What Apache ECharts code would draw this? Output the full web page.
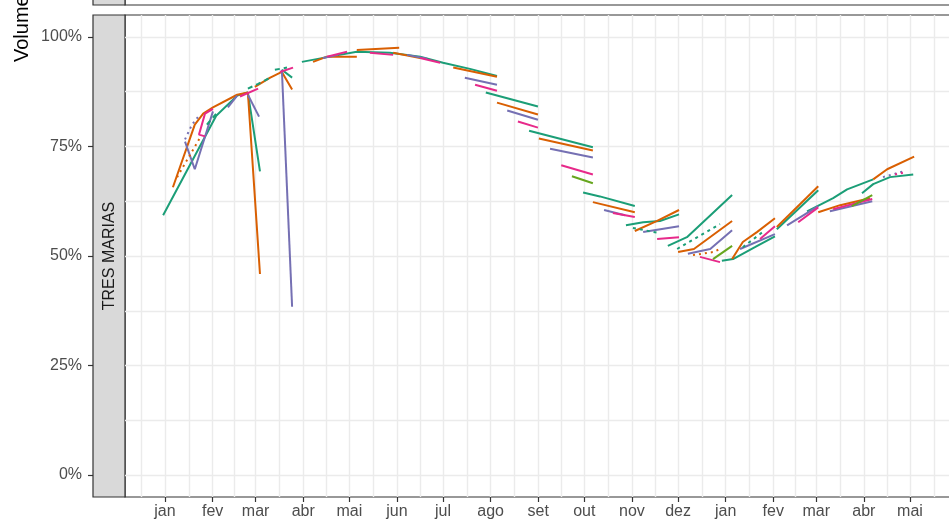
<!DOCTYPE html>
<html><head><meta charset="utf-8">
<script src="https://cdn.jsdelivr.net/npm/echarts@6/dist/echarts.min.js"></script>
<style>html,body{margin:0;padding:0;background:#fff}#c{width:949px;height:525px}</style>
</head><body><div id="c"></div>
<script>
// x unit: fractional months since 1 jan (year 1)
const monthLabels = ['jan','fev','mar','abr','mai','jun','jul','ago','set','out','nov','dez','jan','fev','mar','abr','mai'];
const monthStarts = [0,1.0227,1.9464,2.9691,3.9588,4.9814,5.9711,6.9938,8.0165,9.0062,10.0289,11.0186,12.0412,13.0639,13.9876,15.0103,16.0];
const midMonths = [-0.5113,0.5113,1.4845,2.4577,3.4639,4.4701,5.4763,6.4825,7.5052,8.5113,9.5175,10.5237,11.5299,12.5526,13.5258,14.4990,15.5052,16.5113];
const yTicks = [0,25,50,75,100];
const yMinor = [12.5,37.5,62.5,87.5];
const stripLabel = 'TRES MARIAS';
const yTitle = 'Volume';

const greenSolid = [
 [[-0.04,59.3],[1.10,82.0],[1.55,86.6],[1.78,87.3],[2.04,69.3]],
 [[2.51,92.5],[2.73,90.7]],
 [[2.94,94.3],[3.54,95.5],[4.12,96.6],[4.83,96.4],[5.48,95.5],[5.97,94.1],[6.55,92.7],[7.13,91.1]],
 [[6.89,87.3],[8.01,84.1]],
 [[7.82,78.6],[9.19,74.8]],
 [[8.98,64.5],[9.34,63.6],[10.09,61.4]],
 [[9.90,57.0],[10.27,57.7],[10.63,58.0],[11.04,59.5]],
 [[10.80,52.3],[11.21,54.3],[12.18,63.9]],
 [[11.96,48.9],[12.20,49.3],[12.67,52.0],[13.10,54.5]],
 [[13.14,56.1],[14.03,65.0]],
 [[13.79,60.2],[14.35,63.2],[14.65,65.2],[15.21,67.5]],
 [[14.97,64.3],[15.21,66.4],[15.57,68.0],[16.07,68.6]]
];
const greenDashed = [
 [[0.90,80.0],[1.12,82.7]],
 [[1.78,88.2],[2.00,89.3],[2.26,90.7]],
 [[2.36,92.5],[2.62,93.0]]
];
const greenDotted = [
 [[10.05,56.4],[10.63,55.2]],
 [[11.00,51.6],[11.92,57.3]],
 [[12.41,52.0],[12.84,55.5]]
];
const orangeSolid = [
 [[0.17,65.7],[0.64,80.0],[0.82,82.5],[1.03,83.9],[1.55,86.8],[1.78,87.3],[2.04,45.9]],
 [[1.93,88.6],[2.26,90.7],[2.51,92.0],[2.73,88.0]],
 [[3.18,94.3],[3.48,95.5],[4.12,95.5]],
 [[4.12,97.0],[5.03,97.5]],
 [[4.90,96.4],[5.48,95.2]],
 [[6.19,93.0],[7.13,90.9]],
 [[7.13,85.0],[8.01,82.3]],
 [[8.03,76.8],[9.19,74.1]],
 [[9.19,62.3],[10.09,60.0]],
 [[10.09,55.7],[10.57,58.0],[11.04,60.5]],
 [[11.02,50.9],[11.36,51.6],[12.18,58.0]],
 [[12.18,49.3],[12.41,53.2],[12.72,55.5],[13.10,58.6]],
 [[13.14,56.6],[14.03,65.9]],
 [[14.03,60.0],[14.50,61.6],[15.14,63.2]],
 [[15.21,67.5],[15.51,69.8],[16.09,72.7]]
];
const orangeDotted = [
 [[0.26,68.0],[0.77,77.3]],
 [[11.34,50.2],[11.77,50.9],[11.92,51.6]]
];
const purpleSolid = [
 [[0.43,76.1],[0.64,69.8],[1.03,83.0]],
 [[1.35,83.9],[1.55,86.6]],
 [[1.78,86.8],[2.02,81.8]],
 [[2.51,92.5],[2.73,38.4]],
 [[3.39,95.2],[3.72,95.9]],
 [[5.20,95.9],[5.63,95.0]],
 [[6.44,90.7],[7.13,89.1]],
 [[7.35,83.2],[8.01,81.1]],
 [[8.27,74.5],[9.19,72.5]],
 [[9.43,60.5],[9.88,59.3]],
 [[10.27,55.5],[11.04,56.8]],
 [[11.23,50.5],[11.71,51.6],[12.18,55.9]],
 [[12.35,51.6],[13.10,55.0]],
 [[13.36,57.0],[14.03,61.4]],
 [[14.28,60.2],[15.19,62.5]]
];
const purpleDotted = [
 [[0.43,76.6],[0.58,80.0],[0.75,82.3]],
 [[15.42,68.0],[15.85,69.3]]
];
const pinkSolid = [
 [[1.03,83.6],[0.86,82.5],[0.73,77.7],[0.86,77.3]],
 [[1.61,86.4],[2.00,88.2]],
 [[2.47,92.0],[2.75,93.0]],
 [[3.48,95.5],[3.91,96.6]],
 [[4.40,96.4],[4.90,95.9]],
 [[5.48,95.2],[5.91,94.1]],
 [[6.66,89.1],[7.13,87.7]],
 [[7.58,80.7],[8.01,79.3]],
 [[8.51,70.7],[9.19,68.6]],
 [[9.62,59.8],[10.09,58.9]],
 [[10.57,53.9],[11.04,54.3]],
 [[11.49,49.8],[11.92,48.6]],
 [[12.78,53.9],[13.10,56.8]],
 [[13.60,57.7],[14.03,61.1]],
 [[14.35,60.7],[15.19,63.0]]
];
const pinkDotted = [
 [[15.68,68.6],[15.89,69.1]]
];
const limeSolid = [
 [[8.74,68.2],[9.19,66.6]],
 [[11.77,49.3],[12.18,52.3]],
 [[14.75,61.4],[15.19,63.9]]
];

const GREEN='#1B9E77', ORANGE='#D95F02', PURPLE='#7570B3', PINK='#E7298A', LIME='#66A61E';
const groups = [
 {segs: greenSolid, color: GREEN, dash: 'solid'},
 {segs: orangeSolid, color: ORANGE, dash: 'solid'},
 {segs: purpleSolid, color: PURPLE, dash: 'solid'},
 {segs: pinkSolid, color: PINK, dash: 'solid'},
 {segs: limeSolid, color: LIME, dash: 'solid'},
 {segs: greenDashed, color: GREEN, dash: [5,4]},
 {segs: greenDotted, color: GREEN, dash: [3,4]},
 {segs: orangeDotted, color: ORANGE, dash: [2,4]},
 {segs: purpleDotted, color: PURPLE, dash: [2,4]},
 {segs: pinkDotted, color: PINK, dash: [2,4]}
];
const series = [];
groups.forEach(g => g.segs.forEach(seg => series.push({
  type: 'line', xAxisIndex: 0, yAxisIndex: 0, data: seg,
  symbol: 'none', showSymbol: false, silent: true, animation: false,
  lineStyle: {color: g.color, width: 2, type: g.dash, cap: 'butt'}, z: 3
})));

const FONT = '"Liberation Sans", Arial, sans-serif';
function monthLabel(v) {
  let best = 0, bd = 1e9;
  monthStarts.forEach((m, i) => { const d = Math.abs(m - v); if (d < bd) { bd = d; best = i; } });
  return monthLabels[best];
}
const X_MIN = -0.859, X_MAX = 17.096;
const chart = echarts.init(document.getElementById('c'), null, {renderer: 'canvas'});
chart.setOption({
  animation: false,
  backgroundColor: '#ffffff',
  grid: [{left: 125, top: 15, width: 836, height: 482, show: true, backgroundColor: '#ffffff', borderColor: '#333333', borderWidth: 1.2, containLabel: false, outerBoundsMode: 'none'}],
  xAxis: [
    {type: 'value', gridIndex: 0, min: X_MIN, max: X_MAX, position: 'bottom',
     axisLine: {show: false, onZero: false}, splitLine: {show: false},
     axisTick: {show: true, customValues: monthStarts, length: 5, lineStyle: {color: '#333333', width: 1.2}},
     axisLabel: {customValues: monthStarts, formatter: monthLabel, color: '#4D4D4D', fontSize: 16, fontFamily: FONT, margin: 7}},
    {type: 'value', gridIndex: 0, min: X_MIN, max: X_MAX, position: 'top',
     axisLine: {show: false, onZero: false}, axisLabel: {show: false},
     axisTick: {show: false, customValues: monthStarts.concat(midMonths)},
     splitLine: {show: true, lineStyle: {color: '#EBEBEB', width: 1.4}}}
  ],
  yAxis: [
    {type: 'value', gridIndex: 0, min: -5, max: 105, position: 'left', offset: 32,
     axisLine: {show: false, onZero: false}, splitLine: {show: false},
     axisTick: {show: true, customValues: yTicks, length: 5, lineStyle: {color: '#333333', width: 1.2}},
     axisLabel: {customValues: yTicks, formatter: v => v + '%', color: '#4D4D4D', fontSize: 16, fontFamily: FONT, margin: 11}},
    {type: 'value', gridIndex: 0, min: -5, max: 105, position: 'right',
     axisLine: {show: false, onZero: false}, axisLabel: {show: false},
     axisTick: {show: false, customValues: yTicks.concat(yMinor)},
     splitLine: {show: true, lineStyle: {color: '#EBEBEB', width: 1.4}}}
  ],
  graphic: [
    {type: 'rect', shape: {x: 125, y: -40, width: 836, height: 45}, style: {fill: '#ffffff', stroke: '#333333', lineWidth: 1.2}, silent: true},
    {type: 'rect', shape: {x: 93, y: -40, width: 32, height: 45}, style: {fill: '#D9D9D9', stroke: '#333333', lineWidth: 1.2}, silent: true},
    {type: 'rect', shape: {x: 93, y: 15, width: 32, height: 482}, style: {fill: '#D9D9D9', stroke: '#333333', lineWidth: 1.2}, silent: true},
    {type: 'text', x: 110, y: 256, rotation: Math.PI / 2, silent: true,
     style: {text: stripLabel, font: '16px ' + FONT, fill: '#1A1A1A', align: 'center', verticalAlign: 'middle'}},
    {type: 'text', x: 22, y: 62, rotation: Math.PI / 2, silent: true,
     style: {text: yTitle, font: '20px ' + FONT, fill: '#000000', align: 'left', verticalAlign: 'middle'}}
  ],
  series: series
});
</script></body></html>
